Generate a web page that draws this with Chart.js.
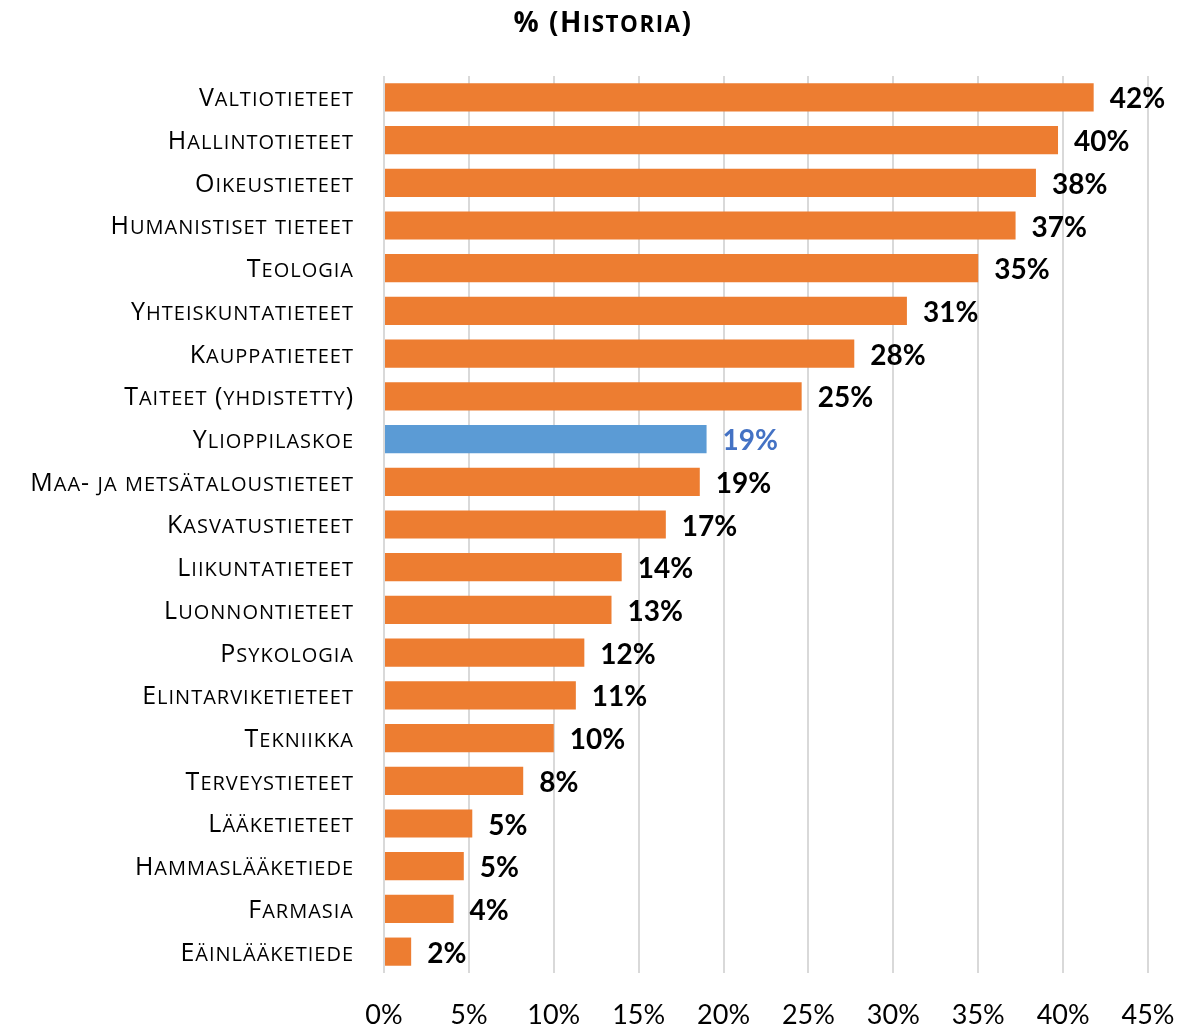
<!DOCTYPE html>
<html>
<head>
<meta charset="utf-8">
<script src="https://cdn.jsdelivr.net/npm/chart.js@4"></script>
<style>
  html, body { margin: 0; padding: 0; background: #fff; }
  #wrap { width: 1203px; height: 1027px; }
</style>
</head>
<body>
<div id="wrap"><canvas id="bar--chart" width="1203" height="1027"></canvas></div>
<script>
'use strict'

const chartTitle = "% (Historia)";
const categories = [
    "Valtiotieteet", "Hallintotieteet", "Oikeustieteet", "Humanistiset tieteet",
    "Teologia", "Yhteiskuntatieteet", "Kauppatieteet", "Taiteet (yhdistetty)",
    "Ylioppilaskoe", "Maa- ja metsätaloustieteet", "Kasvatustieteet", "Liikuntatieteet",
    "Luonnontieteet", "Psykologia", "Elintarviketieteet", "Tekniikka",
    "Terveystieteet", "Lääketieteet", "Hammaslääketiede", "Farmasia", "Eäinlääketiede"
];
const values = [41.8, 39.7, 38.4, 37.2, 35.0, 30.8, 27.7, 24.6, 19.0, 18.6, 16.6, 14.0,
    13.4, 11.8, 11.3, 10.0, 8.2, 5.2, 4.7, 4.1, 1.6];
const highlight = "Ylioppilaskoe";
const xTicks = [0, 5, 10, 15, 20, 25, 30, 35, 40, 45];

const FONT = "Lato, 'Open Sans', sans-serif";
const SC_FONT = "'Open Sans', Lato, sans-serif";

const barColors = categories.map(c => c === highlight ? '#5B9BD5' : '#ED7D31');

// Calibri-like small caps: lower case letters drawn as smaller capitals
function drawSmallCaps(ctx, text, x, centerY, align, size, weight, ratio, spacing) {
    const parts = [];
    for (const ch of text) {
        const small = ch !== ch.toUpperCase();
        const sz = small ? size * ratio : size;
        const last = parts[parts.length - 1];
        if (last && last.size === sz) last.str += ch.toUpperCase();
        else parts.push({ str: ch.toUpperCase(), size: sz });
    }
    ctx.save();
    if ('letterSpacing' in ctx) ctx.letterSpacing = spacing + 'px';
    ctx.textAlign = 'left';
    ctx.textBaseline = 'alphabetic';
    let total = 0;
    parts.forEach(p => {
        ctx.font = weight + ' ' + p.size + 'px ' + SC_FONT;
        p.w = ctx.measureText(p.str).width;
        total += p.w;
    });
    let cx = align === 'right' ? x - total : align === 'center' ? x - total / 2 : x;
    const baseline = centerY + size * 0.714 / 2;
    parts.forEach(p => {
        ctx.font = weight + ' ' + p.size + 'px ' + SC_FONT;
        ctx.fillText(p.str, cx, baseline);
        cx += p.w;
    });
    ctx.restore();
}

// category labels, title and value labels
const textLayer = {
    id: 'textLayer',
    afterDatasetsDraw(chart) {
        const ctx = chart.ctx;
        const yScale = chart.scales.y;
        const area = chart.chartArea;
        ctx.save();
        ctx.fillStyle = '#000';
        categories.forEach((c, i) => {
            drawSmallCaps(ctx, c, area.left - 30, yScale.getPixelForTick(i), 'right', 25, 'normal', 0.8, 1);
        });
        drawSmallCaps(ctx, chartTitle, 603, 22, 'center', 28, 'bold', 0.8, 1.5);

        const meta = chart.getDatasetMeta(0);
        ctx.font = "bold 28px " + FONT;
        ctx.textAlign = 'left';
        ctx.textBaseline = 'middle';
        meta.data.forEach((bar, i) => {
            ctx.fillStyle = categories[i] === highlight ? '#4472C4' : '#000';
            ctx.fillText(Math.round(values[i]) + '%', bar.x + 16, bar.y + 2);
        });
        ctx.restore();
    }
};

const horizontal_bar = {
    type: 'bar',
    data: {
        labels: categories,
        datasets: [{
            label: chartTitle,
            data: values,
            backgroundColor: barColors,
            borderWidth: 0,
            barPercentage: 0.66,
            categoryPercentage: 1.0
        }]
    },
    options: {
        indexAxis: 'y',
        responsive: false,
        animation: false,
        layout: { padding: { left: 0, right: 55, top: 76, bottom: 0 } },
        plugins: {
            legend: { display: false },
            tooltip: { enabled: false },
            title: { display: false }
        },
        scales: {
            x: {
                min: 0,
                max: 45,
                afterBuildTicks: s => { s.ticks = xTicks.map(v => ({ value: v })); },
                grid: { color: '#D9D9D9', lineWidth: 2, drawTicks: false },
                border: { display: false },
                ticks: {
                    color: '#000',
                    padding: 26,
                    font: { family: FONT, size: 27 },
                    callback: v => v + '%'
                },
                afterFit: s => { s.height = 54; }
            },
            y: {
                grid: { display: false, drawTicks: false },
                border: { display: false },
                ticks: { display: false },
                afterFit: s => { s.width = 384; }
            }
        }
    },
    plugins: [textLayer]
};

document.addEventListener('DOMContentLoaded', function() {
    new Chart(document.getElementById('bar--chart').getContext('2d'), horizontal_bar)
});
</script>
</body>
</html>
